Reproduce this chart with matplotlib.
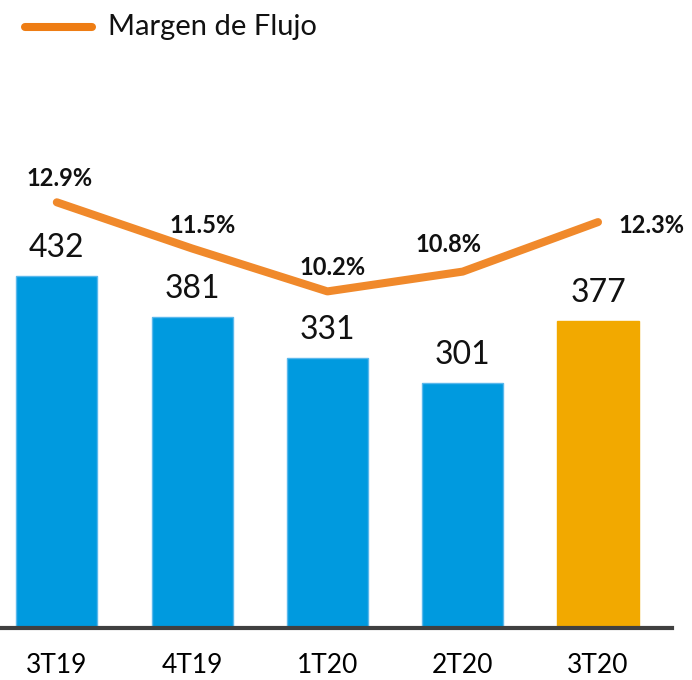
import matplotlib
matplotlib.use("Agg")
import matplotlib.pyplot as plt
from matplotlib.lines import Line2D

plt.rcParams['font.family'] = ['Lato', 'DejaVu Sans']

quarters = ["3T19", "4T19", "1T20", "2T20", "3T20"]
flujo = [432, 381, 331, 301, 377]
margen = [12.9, 11.5, 10.2, 10.8, 12.3]
# label offsets (pixels) for the margin labels
margin_offsets = [(3, 24), (10, 23), (5, 24), (-14, 27), (53, -3)]

blue = "#009ADF"
gold = "#F2A900"
orange = "#F0892B"

W, H = 692, 680
fig = plt.figure(figsize=(W / 100, H / 100), dpi=100)
ax = fig.add_axes([0, 52 / H, 672 / W, 548 / H])

x = list(range(len(quarters)))
colors = [blue] * 4 + [gold]
bars = ax.bar(x, flujo, width=0.6, color=colors, edgecolor=["#5BB8EC"] * 4 + [gold],
              linewidth=1, zorder=2)
for xi, v in zip(x, flujo):
    ax.annotate(str(v), (xi, v), xytext=(0, 13), textcoords="offset pixels",
                ha="center", va="bottom", fontsize=23, color="#111111")

ax.set_xlim(-0.42, 4.547)
ax.set_ylim(0, 548 / 0.815)
ax.set_xticks(x)
ax.set_xticklabels(quarters, fontsize=19)
ax.tick_params(axis="x", length=0, pad=18)
ax.set_yticks([])
for s in ["top", "right", "left"]:
    ax.spines[s].set_visible(False)
ax.spines["bottom"].set_linewidth(3)
ax.spines["bottom"].set_color("#404040")

ax2 = ax.twinx()
ax2.set_ylim(0, 548 / 33)
ax2.plot(x, margen, color=orange, linewidth=5.8, solid_capstyle="round",
         solid_joinstyle="round", zorder=3)
for xi, v, off in zip(x, margen, margin_offsets):
    ax2.annotate(f"{v:.1f}%", (xi, v), xytext=off, textcoords="offset pixels",
                 ha="center", va="center", fontsize=17, fontweight="bold",
                 color="#111111", annotation_clip=False)
ax2.set_yticks([])
for s in ax2.spines.values():
    s.set_visible(False)

# legend
fig.add_artist(Line2D([25 / W, 92 / W], [(H - 27) / H] * 2, color="#EE7D14",
                      linewidth=5.8, solid_capstyle="round"))
fig.text(108 / W, (H - 27) / H, "Margen de Flujo", fontsize=21,
         ha="left", va="center", color="#111111")

fig.savefig("out.png", dpi=100)
